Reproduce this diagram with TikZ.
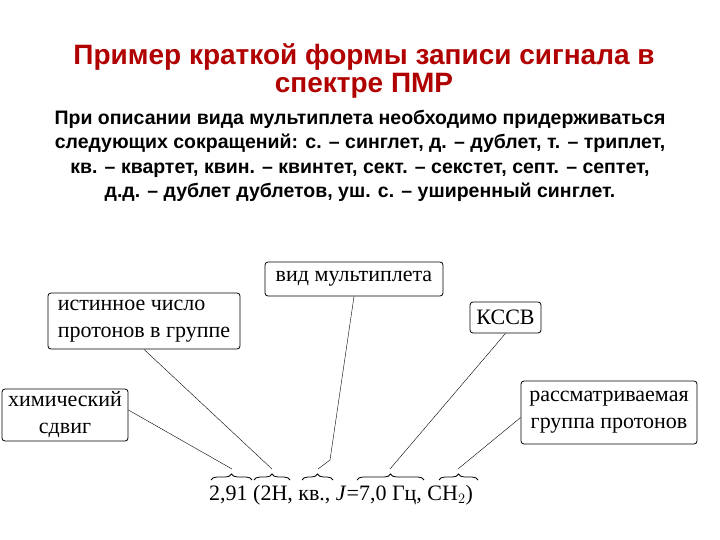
\documentclass[tikz,border=0pt]{standalone}
\usepackage{fontspec}
\setmainfont{Liberation Serif}
\newfontfamily\hd{Liberation Sans}
\usetikzlibrary{decorations.pathreplacing}
\definecolor{tred}{HTML}{B00000}
\begin{document}
\begin{tikzpicture}[x=1pt,y=-1pt,
  box/.style={draw,thick,rounded corners=3pt,fill=white,align=left,font=\fontsize{22}{27}\selectfont,inner sep=2pt},
  ln/.style={thin},
  br/.style={decorate,decoration={brace,amplitude=6pt},thick}]
\useasboundingbox (0,0) rectangle (720,540);
\node[font=\hd\bfseries\fontsize{28}{28}\selectfont,text=tred,align=center] (title) at (364,71) {Пример краткой формы записи сигнала в\\спектре ПМР};
\node[font=\hd\bfseries\fontsize{19.5}{24.3}\selectfont,align=center] (body) at (360,156) {При описании вида мультиплета необходимо придерживаться\\следующих сокращений: с. – синглет, д. – дублет, т. – триплет,\\кв. – квартет, квин. – квинтет, сект. – секстет, септ. – септет,\\д.д. – дублет дублетов, уш. с. – уширенный синглет.};
\node[box,minimum width=178,minimum height=34] (vid) at (354,279) {вид мультиплета};
\node[box,minimum width=192,minimum height=56] (ist) at (144,321) {истинное число\\протонов в группе};
\node[box,minimum width=71,minimum height=31,inner sep=1pt] (kssv) at (505.5,317.5) {КССВ};
\node[box,minimum width=126,minimum height=52,align=center,inner sep=1pt] (him) at (65,415) {химический\\сдвиг};
\node[box,minimum width=176,minimum height=63,align=center,inner sep=1pt] (ras) at (609,412.5) {рассматриваемая\\группа протонов};
\node[font=\fontsize{22}{24}\selectfont,anchor=west,inner sep=0] (f) at (209,495) {2,91 (2H, кв., \textit{J}=7,0 Гц, CH$_2$)};
\draw[br] (211,480) -- (252,480);
\draw[br] (254,480) -- (290,480);
\draw[br] (302,480) -- (333,480);
\draw[br] (357,480) -- (424,480);
\draw[br] (439,480) -- (478,480);
\coordinate (t1) at (232,469);
\coordinate (t2) at (272,469);
\coordinate (t3) at (318,469);
\coordinate (t4) at (390,469);
\coordinate (t5) at (458,469);
\draw[ln] (him.east) ++(0,-5) -- (t1);
\draw[ln] (ist.south) -- (t2);
\draw[ln] (vid.south) -- (330,460) -- (t3);
\draw[ln] (kssv.south) -- (t4);
\draw[ln] (ras.west) ++(0,5) -- (t5);
\end{tikzpicture}
\end{document}
